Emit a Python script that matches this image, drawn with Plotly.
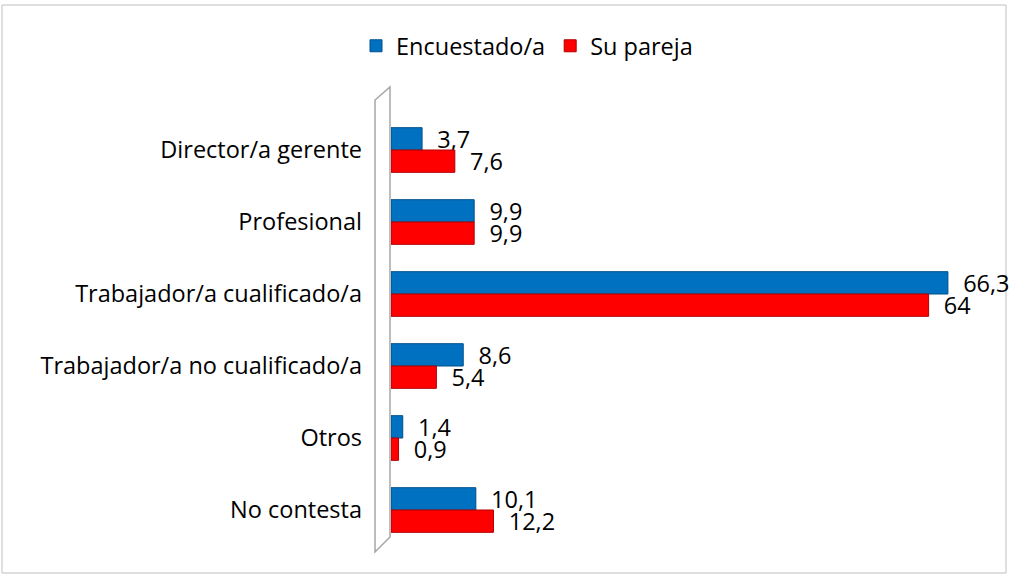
import plotly.graph_objects as go

categories = ["Director/a gerente", "Profesional", "Trabajador/a cualificado/a",
              "Trabajador/a no cualificado/a", "Otros", "No contesta"]
encuestado = [3.7, 9.9, 66.3, 8.6, 1.4, 10.1]
pareja = [7.6, 9.9, 64, 5.4, 0.9, 12.2]
series_names = ["Encuestado/a", "Su pareja"]
colors = ["#0070C0", "#FF0000"]
line_colors = ["#00508A", "#B00000"]

FONT = "Open Sans, sans-serif"
FS = 23.5

def fmt(v):
    return ("%g" % v).replace(".", ",")

fig = go.Figure()
for name, vals, c, lc in zip(series_names, [encuestado, pareja], colors, line_colors):
    fig.add_trace(go.Bar(
        y=categories, x=vals, orientation="h", name=name,
        marker=dict(color=c, line=dict(color=lc, width=1)),
        text=["\u00a0\u00a0" + fmt(v) for v in vals], textposition="outside",
        constraintext="none",
        textfont=dict(size=FS, color="#000000", family=FONT), cliponaxis=False,
    ))

L, R, T, B = 391, 30, 114, 34
W, H = 1009, 580
pw, ph = W - L - R, H - T - B

def px(x):
    return (x - L) / pw

def py(y):
    return (H - B - y) / ph

shapes = [
    dict(type="rect", xref="paper", yref="paper", x0=px(2), x1=px(1006), y0=py(5), y1=py(573),
         line=dict(color="#BFBFBF", width=1), layer="below"),
    dict(type="path", xref="paper", yref="paper",
         path=f"M {px(375)},{py(552)} L {px(375)},{py(100)} L {px(390)},{py(87)} L {px(390)},{py(537)} Z",
         line=dict(color="#A6A6A6", width=1.5), layer="below"),
]

fig.update_layout(
    width=W, height=H,
    margin=dict(l=L, r=R, t=T, b=B),
    paper_bgcolor="white", plot_bgcolor="white",
    barmode="group", bargap=0.38, bargroupgap=0.0,
    separators=",.",
    font=dict(family=FONT, size=FS, color="#000000"),
    legend=dict(orientation="h", x=px(527), xanchor="center", y=py(46), yanchor="middle",
                font=dict(size=FS), traceorder="normal", itemwidth=30),
    xaxis=dict(range=[0, 70], visible=False),
    yaxis=dict(autorange="reversed", showline=False, showgrid=False, ticks="",
               tickfont=dict(size=FS), ticklabelstandoff=28),
    shapes=shapes,
    showlegend=True,
)

fig.write_html("out.html", config={"displayModeBar": False},
               post_script="document.body.style.margin='0';")
